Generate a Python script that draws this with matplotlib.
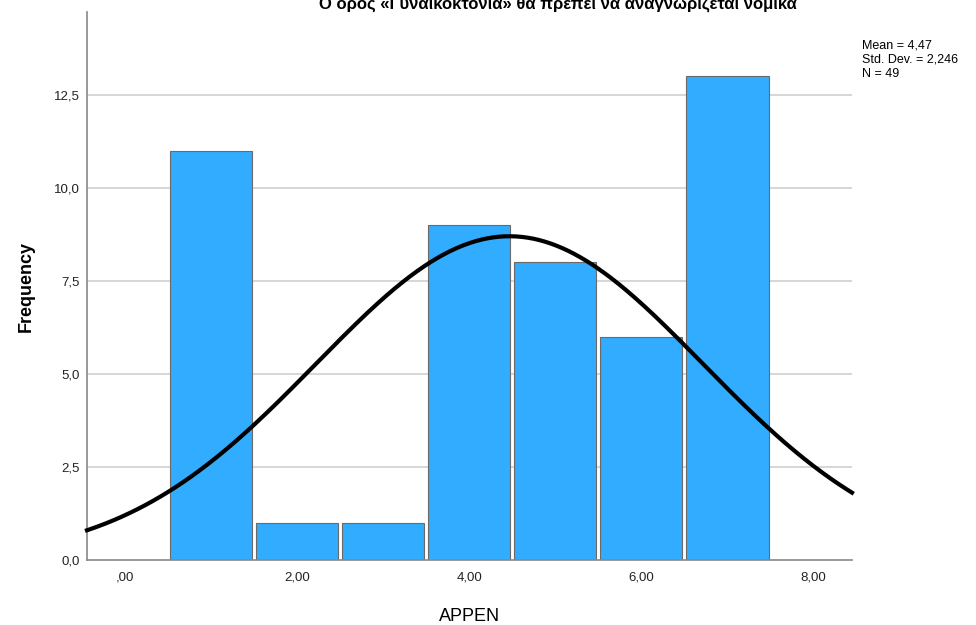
import numpy as np
import matplotlib.pyplot as plt

plt.rcParams['font.family'] = ['Liberation Sans', 'DejaVu Sans']

# histogram data
values = [1, 2, 3, 4, 5, 6, 7]
counts = [11, 1, 1, 9, 8, 6, 13]
xticks = [0, 2, 4, 6, 8]
xtick_labels = [",00", "2,00", "4,00", "6,00", "8,00"]
yticks = [0, 2.5, 5.0, 7.5, 10.0, 12.5]
ytick_labels = ["0,0", "2,5", "5,0", "7,5", "10,0", "12,5"]
title = "Ο όρος «Γυναικοκτονία» θα πρέπει να αναγνωρίζεται νομικά"

vals = np.repeat(values, counts)
n = len(vals)
mean = vals.mean()
sd = vals.std(ddof=1)

fig = plt.figure(figsize=(9.76, 6.25), dpi=100)
ax = fig.add_axes([87 / 976, 65 / 625, 765 / 976, 548 / 625])

for y in yticks[1:]:
    ax.axhline(y, color="#d0d0d0", lw=1.2, zorder=0)

ax.bar(values, counts, width=0.96, color="#31acff", edgecolor="#6a6a6a",
       linewidth=0.8, zorder=2)

xs = np.linspace(-0.44, 8.45, 400)
curve = n * 1.0 / (sd * np.sqrt(2 * np.pi)) * np.exp(-0.5 * ((xs - mean) / sd) ** 2)
ax.plot(xs, curve, color="black", lw=3, zorder=3, clip_on=False)

ax.set_xlim(-0.44, 8.45)
ax.set_ylim(0, 14.73)
ax.set_xticks(xticks)
ax.set_xticklabels(xtick_labels, fontsize=9.5)
ax.set_yticks(yticks)
ax.set_yticklabels(ytick_labels, fontsize=9.5)
ax.tick_params(axis="x", length=0, pad=8, colors="#222222")
ax.tick_params(axis="y", length=0, pad=5, colors="#222222")
for s in ["top", "right"]:
    ax.spines[s].set_visible(False)
for s in ["left", "bottom"]:
    ax.spines[s].set_color("#888888")
    ax.spines[s].set_linewidth(1.2)

ax.set_xlabel("APPEN", fontsize=13, labelpad=18)
ax.set_ylabel("Frequency", fontsize=13, fontweight="bold", labelpad=14)

fig.text(558 / 976, 616 / 625, title, ha="center", va="baseline",
         fontsize=12, fontweight="bold")
fig.text(862 / 976, 585 / 625,
         "Mean = 4,47\nStd. Dev. = 2,246\nN = 49",
         ha="left", va="top", fontsize=9, linespacing=1.2)

fig.savefig("out.png", dpi=100)
